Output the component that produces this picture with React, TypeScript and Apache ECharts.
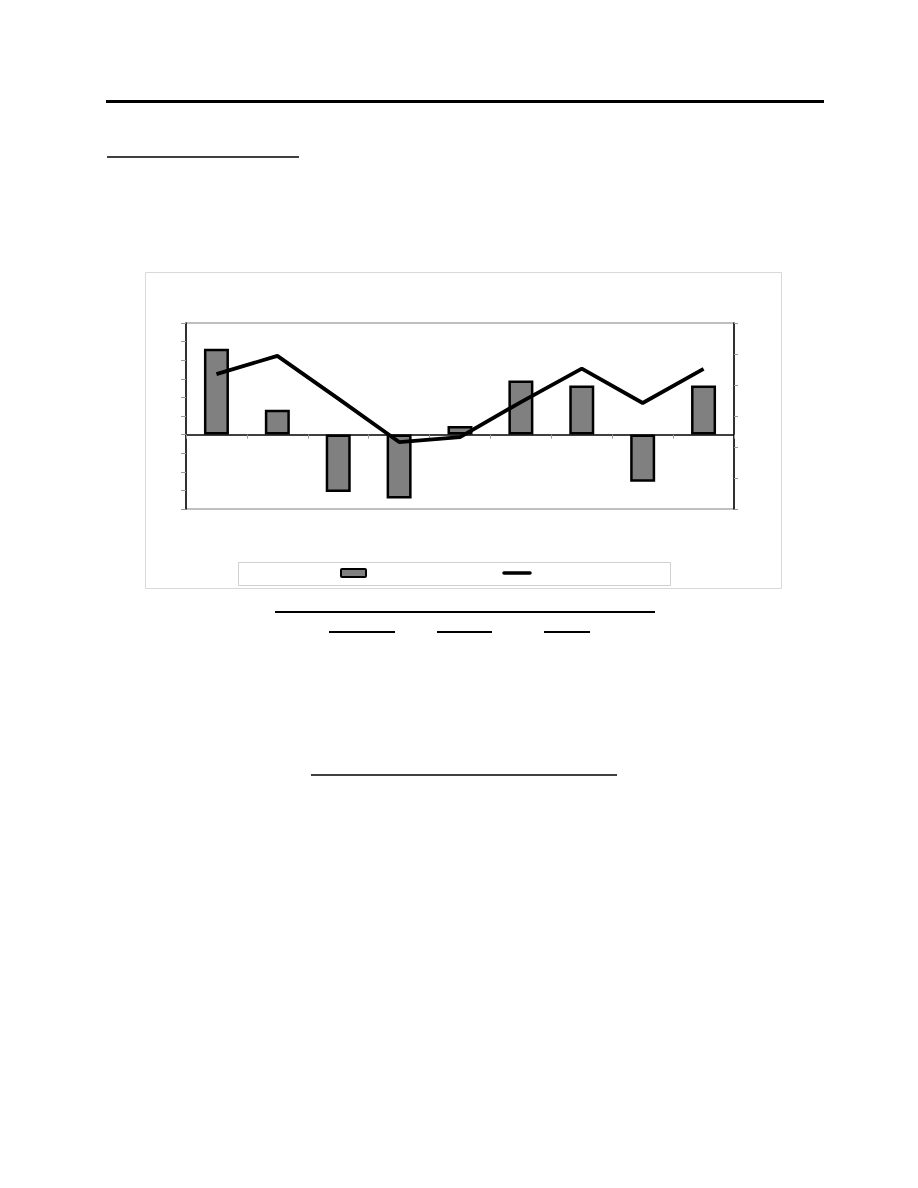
import React, { useEffect, useRef } from "react";
import * as echarts from "echarts";

// Data (no labels are printed in it)
const categories = ["P1", "P2", "P3", "P4", "P5", "P6", "P7", "P8", "P9"];
const barValues = [4.62, 1.34, -3.09, -3.43, 0.46, 2.91, 2.64, -2.53, 2.64];
const lineValues = [2.35, 2.94, 1.56, 0.16, 0.32, 1.45, 2.53, 1.42, 2.52];
const leftAxis = { min: -4, max: 6, interval: 1 };
const rightAxis = { min: -2, max: 4, interval: 1 };

export default function App() {
  const ref = useRef<HTMLDivElement>(null);
  useEffect(() => {
    if (!ref.current) return;
    const chart = echarts.init(ref.current, undefined, { renderer: "svg" });
    const hline = (x1: number, x2: number, y: number, w: number) => ({
      type: "line",
      shape: { x1, y1: y, x2, y2: y },
      style: { stroke: "#000", lineWidth: w },
      silent: true,
    });
    chart.setOption({
      animation: false,
      backgroundColor: "#fff",
      graphic: [
        hline(106, 824, 101.5, 3),
        hline(107, 299, 157, 1.5),
        {
          type: "rect",
          shape: { x: 145.5, y: 272.5, width: 636, height: 316 },
          style: { fill: "none", stroke: "#d9d9d9", lineWidth: 1 },
          z: -10,
          silent: true,
        },
        {
          type: "rect",
          shape: { x: 238.5, y: 562.5, width: 432, height: 23 },
          style: { fill: "#fff", stroke: "#d0d0d0", lineWidth: 1 },
          silent: true,
        },
        {
          type: "rect",
          shape: { x: 341, y: 569, width: 25, height: 8, r: 1 },
          style: { fill: "#808080", stroke: "#000", lineWidth: 2 },
          silent: true,
        },
        {
          type: "line",
          shape: { x1: 504, y1: 573, x2: 530, y2: 573 },
          style: { stroke: "#000", lineWidth: 3.5, lineCap: "round" },
          silent: true,
        },
        hline(275, 655, 612, 2),
        hline(329, 395, 632, 2),
        hline(437, 492, 632, 2),
        hline(544, 590, 632, 2),
        hline(311, 617, 775, 1.5),
      ],
      grid: {
        left: 186,
        top: 323,
        width: 548,
        height: 186,
        show: true,
        borderColor: "#808080",
        borderWidth: 1,
        backgroundColor: "#fff",
      },
      xAxis: {
        type: "category",
        data: categories,
        axisLine: { onZero: true, onZeroAxisIndex: 0, lineStyle: { color: "#000", width: 1.5 } },
        axisTick: { show: true, alignWithLabel: false, length: 4, lineStyle: { color: "#999" } },
        axisLabel: { show: false },
        splitLine: { show: false },
      },
      yAxis: [
        {
          type: "value",
          ...leftAxis,
          position: "left",
          axisLine: { show: true, lineStyle: { color: "#000", width: 1.5 } },
          axisTick: { show: true, length: 5, lineStyle: { color: "#999" } },
          axisLabel: { show: false },
          splitLine: { show: false },
        },
        {
          type: "value",
          ...rightAxis,
          position: "right",
          axisLine: { show: true, lineStyle: { color: "#000", width: 1.5 } },
          axisTick: { show: true, length: 4, lineStyle: { color: "#999" } },
          axisLabel: { show: false },
          splitLine: { show: false },
        },
      ],
      series: [
        {
          type: "bar",
          data: barValues,
          yAxisIndex: 0,
          barWidth: 25,
          itemStyle: { color: "#808080", borderColor: "#000", borderWidth: 2.5 },
          z: 2,
        },
        {
          type: "line",
          data: lineValues,
          yAxisIndex: 1,
          symbol: "none",
          lineStyle: { color: "#000", width: 3.8 },
          z: 3,
        },
      ],
    });
    return () => chart.dispose();
  }, []);
  return (
    <div
      ref={ref}
      style={{ position: "absolute", left: 0, top: 0, width: 918, height: 1188 }}
    />
  );
}
